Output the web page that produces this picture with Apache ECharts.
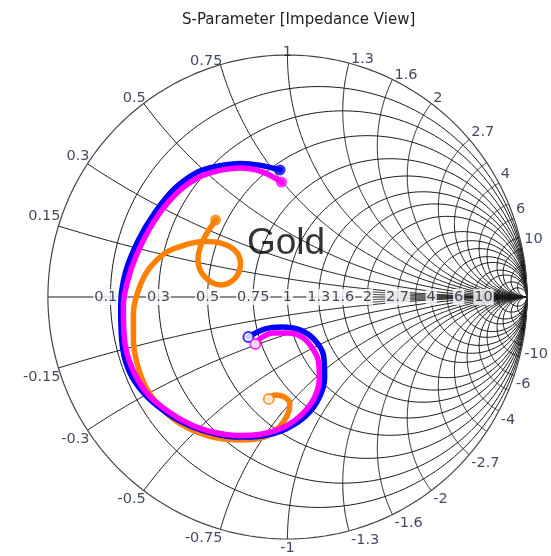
<!DOCTYPE html>
<html>
<head>
<meta charset="utf-8">
<script src="https://cdn.jsdelivr.net/npm/echarts@6/dist/echarts.min.js"></script>
<style>
  html, body { margin: 0; padding: 0; background: #fff; }
  #chart { width: 551px; height: 556px; }
</style>
</head>
<body>
<div id="chart"></div>
<script>
// Smith chart grid values (normalized resistance / reactance), labelled on the chart
const gridValues = [0.15, 0.3, 0.5, 0.75, 1, 1.3, 1.6, 2, 2.7, 4, 6, 10];
// extra unlabelled circles/arcs that crowd toward the open-circuit point
const minorValues = [3.3, 5, 8, 15, 25];
const nearAxisReactance = [0.05, 0.1];

// Reflection coefficient traces [Re(Γ), Im(Γ)]
const traceBlue = [
  [-0.031, 0.525], [-0.118, 0.545], [-0.196, 0.552], [-0.291, 0.541], [-0.374, 0.517],
  [-0.469, 0.450], [-0.552, 0.351], [-0.622, 0.236], [-0.676, 0.103], [-0.696, -0.037],
  [-0.692, -0.178], [-0.663, -0.302], [-0.593, -0.405], [-0.498, -0.483], [-0.395, -0.537],
  [-0.300, -0.566], [-0.200, -0.579], [-0.105, -0.574], [-0.006, -0.545], [0.076, -0.492],
  [0.130, -0.421], [0.155, -0.335], [0.151, -0.244], [0.114, -0.178], [0.052, -0.136],
  [-0.023, -0.124], [-0.093, -0.132], [-0.163, -0.165]
];
const traceMagenta = [
  [-0.025, 0.475], [-0.105, 0.517], [-0.196, 0.533], [-0.291, 0.521], [-0.374, 0.492],
  [-0.457, 0.434], [-0.539, 0.339], [-0.607, 0.223], [-0.659, 0.095], [-0.685, -0.037],
  [-0.681, -0.169], [-0.650, -0.291], [-0.584, -0.401], [-0.492, -0.477], [-0.395, -0.531],
  [-0.302, -0.560], [-0.207, -0.572], [-0.112, -0.567], [-0.014, -0.537], [0.062, -0.483],
  [0.113, -0.415], [0.133, -0.335], [0.128, -0.260], [0.101, -0.207], [0.060, -0.165],
  [0.006, -0.149], [-0.060, -0.149], [-0.110, -0.169], [-0.134, -0.194]
];
const traceOrange = [
  [-0.300, 0.318], [-0.336, 0.264], [-0.364, 0.207], [-0.374, 0.153], [-0.345, 0.083],
  [-0.279, 0.050], [-0.217, 0.079], [-0.196, 0.140], [-0.221, 0.194], [-0.279, 0.223],
  [-0.345, 0.229], [-0.428, 0.215], [-0.510, 0.182], [-0.581, 0.112], [-0.622, 0.029],
  [-0.643, -0.066], [-0.643, -0.178], [-0.626, -0.281], [-0.589, -0.376], [-0.519, -0.467],
  [-0.424, -0.537], [-0.312, -0.579], [-0.196, -0.591], [-0.097, -0.579], [-0.039, -0.541],
  [-0.002, -0.492], [0.010, -0.442], [-0.014, -0.413], [-0.052, -0.405], [-0.078, -0.421]
];

// z = r + jx  ->  Γ = (z - 1) / (z + 1)
function gamma(r, x) {
  const d = (r + 1) * (r + 1) + x * x;
  return [(r * r + x * x - 1) / d, (2 * x) / d];
}
// constant-resistance curve, x running over [x0, x1]
function resistanceCurve(r, x0, x1) {
  const pts = [];
  const t0 = Math.atan(x0), t1 = Math.atan(x1), n = 240;
  for (let i = 0; i <= n; i++) {
    const t = t0 + (t1 - t0) * i / n;
    const tt = Math.max(-1.5707, Math.min(1.5707, t));
    pts.push(gamma(r, Math.tan(tt)));
  }
  return pts;
}
// constant-reactance curve, r running from r0 to infinity
function reactanceCurve(x, r0) {
  const pts = [];
  const t0 = Math.atan(r0), t1 = Math.PI / 2 - 0.0005, n = 240;
  for (let i = 0; i <= n; i++) {
    const t = t0 + (t1 - t0) * i / n;
    pts.push(gamma(Math.tan(t), x));
  }
  return pts;
}

const gridCurves = [];
gridCurves.push({ coords: [[-1, 0], [1, 0]] });
gridValues.concat(minorValues).forEach(v => {
  gridCurves.push({ coords: resistanceCurve(v, -1e4, 1e4) });
  gridCurves.push({ coords: reactanceCurve(v, 0) });
  gridCurves.push({ coords: reactanceCurve(-v, 0) });
});
nearAxisReactance.forEach(v => {
  gridCurves.push({ coords: reactanceCurve(v, 2) });
  gridCurves.push({ coords: reactanceCurve(-v, 2) });
});

const labelFont = { fontFamily: 'DejaVu Sans', fontSize: 14.5, color: '#0f1a33' };

// labels on the real axis, sitting on white
const axisLabels = gridValues.map(v => ({
  value: gamma(v, 0),
  label: {
    formatter: String(v), position: [0, 0], align: 'center', verticalAlign: 'middle',
    backgroundColor: '#fff', padding: [1, 1, 0, 1]
  }
}));
// labels around the rim at the reactance arc ends
const rimLabels = [];
gridValues.forEach(v => {
  [v, -v].forEach(x => {
    const g = gamma(0, x);
    const c2 = g[0] * g[0];
    const align = g[0] < -0.1 ? 'right' : (g[0] > 0.1 ? 'left' : 'center');
    const upper = x > 0;
    rimLabels.push({
      value: g,
      label: {
        formatter: String(x), position: [0, 0], align: align, verticalAlign: 'middle',
        offset: [align === 'right' ? 2 : (align === 'left' ? 2 : 0), upper ? -(3 + 7 * c2) : 9]
      }
    });
  });
});

function endMarkers(trace, color) {
  return [
    {
      type: 'scatter', data: [trace[0]], symbol: 'circle', symbolSize: 11,
      itemStyle: { color: color }, z: 6, silent: true
    },
    {
      type: 'scatter', data: [trace[trace.length - 1]], symbol: 'circle', symbolSize: 10,
      itemStyle: { color: '#fff', borderColor: color, borderWidth: 2 }, z: 6, silent: true
    }
  ];
}
function traceSeries(trace, color, z) {
  return {
    type: 'line', data: trace, smooth: 0.35, showSymbol: false, symbol: 'none',
    lineStyle: { color: color, width: 5.5, cap: 'round', join: 'round' }, z: z, silent: true
  };
}

const chart = echarts.init(document.getElementById('chart'), null, { renderer: 'canvas' });
chart.setOption({
  animation: false,
  backgroundColor: '#fff',
  title: [
    {
      text: 'S-Parameter [Impedance View]', left: 177, top: 8,
      textStyle: { fontFamily: 'DejaVu Sans', fontSize: 15, fontWeight: 'normal', color: '#222' }
    }
  ],
  grid: { left: 0, top: 6.6, width: 556.6, height: 544.5 },
  xAxis: { type: 'value', min: -1.2, max: 1.1, show: false },
  yAxis: { type: 'value', min: -1.05, max: 1.2, show: false },
  series: [
    {
      type: 'lines', coordinateSystem: 'cartesian2d', polyline: true, silent: true,
      data: gridCurves, lineStyle: { color: '#1a1a1a', width: 1, opacity: 1 }, z: 1
    },
    {
      type: 'lines', coordinateSystem: 'cartesian2d', polyline: true, silent: true,
      data: [{ coords: resistanceCurve(0, -1e4, 1e4) }],
      lineStyle: { color: '#444', width: 1.2, opacity: 1 }, z: 1
    },
    traceSeries(traceOrange, '#ff8000', 3),
    traceSeries(traceBlue, '#0000ff', 4),
    traceSeries(traceMagenta, '#ff00ff', 5),
    ...endMarkers(traceOrange, '#ff8000'),
    ...endMarkers(traceBlue, '#0000ff'),
    ...endMarkers(traceMagenta, '#ff00ff'),
    {
      type: 'scatter', data: axisLabels, symbolSize: 0, silent: true, z: 2,
      label: Object.assign({ show: true }, labelFont)
    },
    {
      type: 'scatter', data: rimLabels, symbolSize: 0, silent: true, z: 2,
      label: Object.assign({ show: true }, labelFont)
    },
    {
      type: 'scatter', data: [[-0.006, 0.218]], symbolSize: 0, silent: true, z: 7,
      label: {
        show: true, formatter: 'Gold', position: [0, 0], align: 'center', verticalAlign: 'middle',
        fontFamily: 'Liberation Sans', fontSize: 37, color: '#000'
      }
    }
  ]
});
</script>
</body>
</html>
